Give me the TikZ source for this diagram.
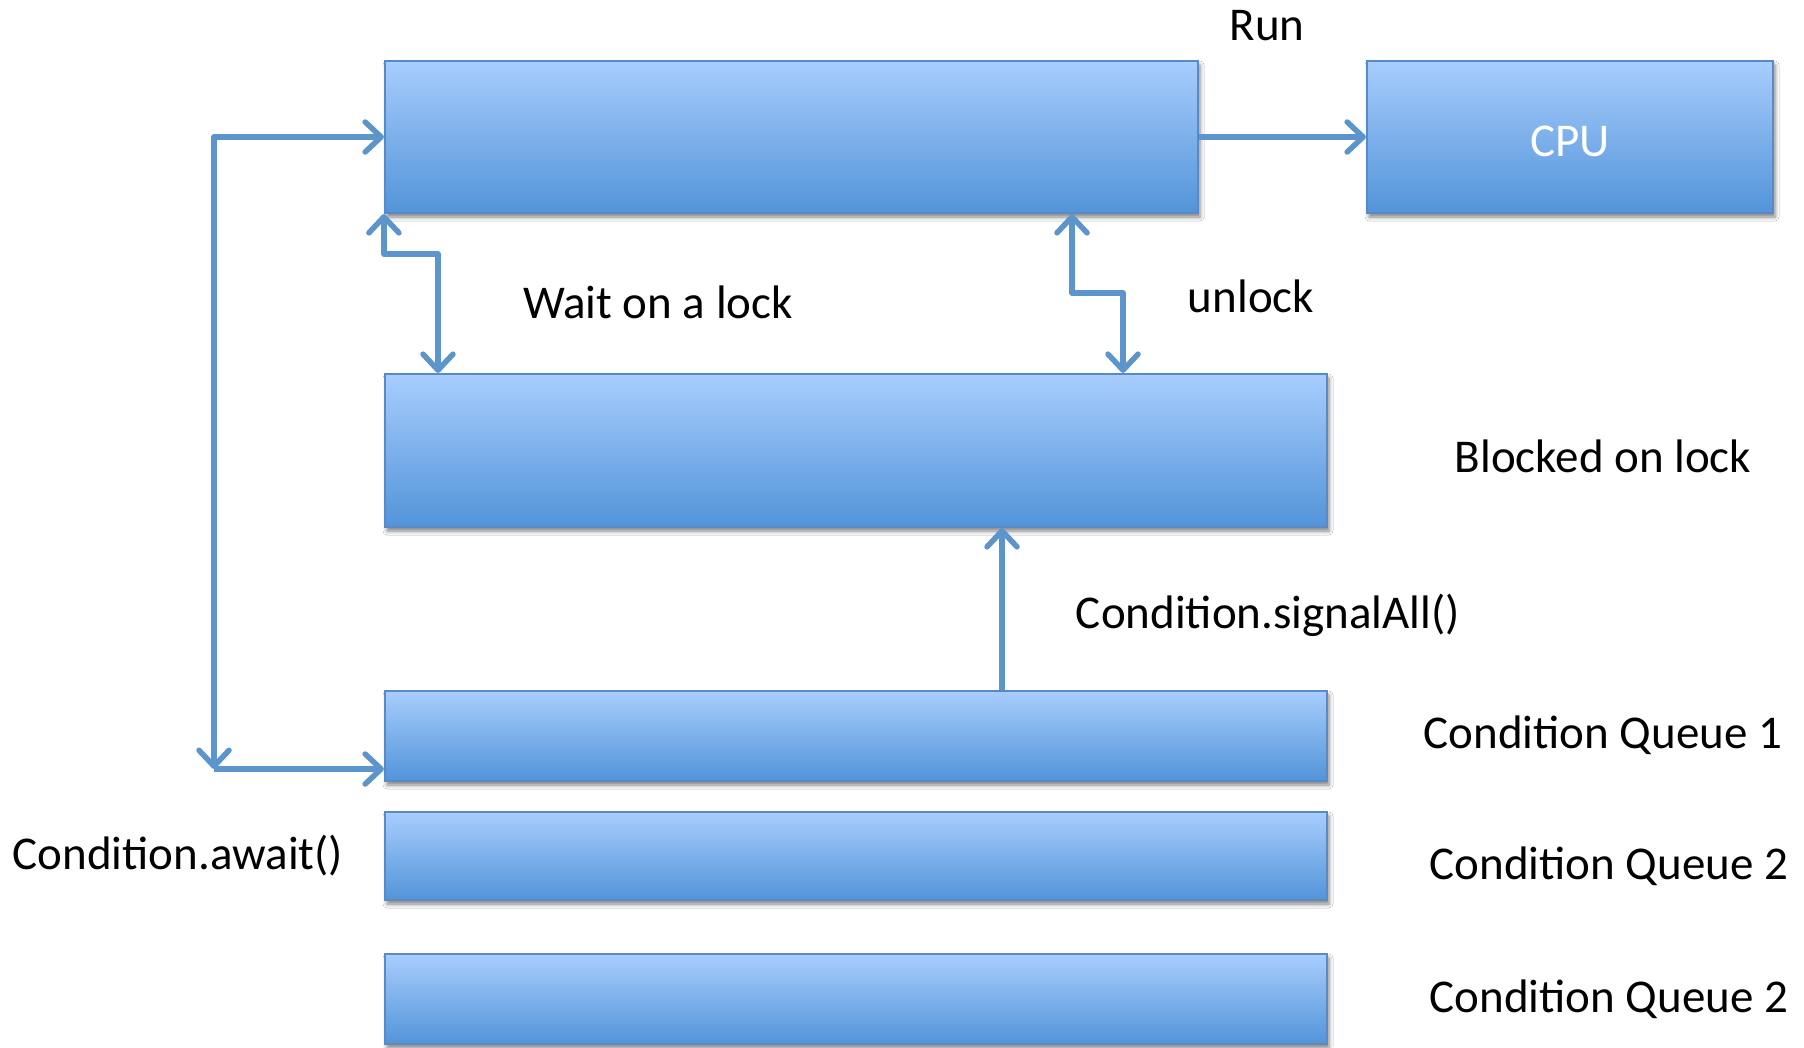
\documentclass[tikz,border=0pt]{standalone}
\usepackage{fontspec}
\setmainfont{Carlito}
\usetikzlibrary{arrows.meta,shadows.blur}
\definecolor{boxtop}{RGB}{168,205,253}
\definecolor{boxbot}{RGB}{82,148,217}
\definecolor{boxline}{RGB}{88,138,198}
\definecolor{wire}{RGB}{92,148,204}
\tikzset{
  qbox/.style={rectangle, draw=boxline, line width=2.2pt, inner sep=0pt,
    top color=boxtop, bottom color=boxbot,
    blur shadow={shadow xshift=2pt, shadow yshift=-4pt, shadow blur radius=4pt, shadow opacity=50}},
  lbl/.style={font=\fontsize{47pt}{56pt}\selectfont, text=black, inner sep=0pt},
  wirestyle/.style={draw=wire, line width=5.5pt, line join=round,
    arrows={-}, >={Straight Barb[length=16pt,width=30pt,line width=5.5pt,round]}}
}
\begin{document}
\begin{tikzpicture}[x=1pt,y=-1pt]
\useasboundingbox[fill=white] (0,0) rectangle (1804,1047);

% boxes
\node[qbox, minimum width=813pt, minimum height=152pt] (run) at (791.5,137) {};
\node[qbox, minimum width=406pt, minimum height=152pt] (cpu) at (1570,137) {};
\node[qbox, minimum width=942pt, minimum height=153pt] (blk) at (856,450.5) {};
\node[qbox, minimum width=942pt, minimum height=90pt] (cq1) at (856,736) {};
\node[qbox, minimum width=942pt, minimum height=88pt] (cq2) at (856,856) {};
\node[qbox, minimum width=942pt, minimum height=90pt] (cq3) at (856,999) {};

% labels
\node[lbl, text=white] (lcpu) at (1570,141) {CPU};
\node[lbl] (lrun) at (1267,26) {Run};
\node[lbl] (lwait) at (658,302) {Wait on a lock};
\node[lbl] (lunlock) at (1251,296) {unlock};
\node[lbl] (lblk) at (1603,456) {Blocked on lock};
\node[lbl] (lsig) at (1268,615) {Condition.signalAll()};
\node[lbl] (lq1) at (1603,735) {Condition Queue 1};
\node[lbl] (lq2) at (1609,866) {Condition Queue 2};
\node[lbl] (lq3) at (1609,999) {Condition Queue 2};
\node[lbl] (lawait) at (178,856) {Condition.await()};

% routing points
\coordinate (lt) at (214,137);
\coordinate (lc) at (214,769);
\coordinate (w1) at (438,254);
\coordinate (u1) at (1072,293);
\coordinate (u2) at (1123,293);
\coordinate (s0) at (1002,0);

% connectors
\draw[wirestyle,->] (run.east) -- (cpu.west);
\draw[wirestyle,<->] (run.west) -- (lt) -- (lc);
\draw[wirestyle,->] (lc) -- (lc -| cq1.west);
\draw[wirestyle,<->] (run.south west) |- (w1) -- (w1 |- blk.north);
\draw[wirestyle,<->] (run.south -| u1) -- (u1) -- (u2) -- (u2 |- blk.north);
\draw[wirestyle,->] (cq1.north -| s0) -- (blk.south -| s0);
\end{tikzpicture}
\end{document}
